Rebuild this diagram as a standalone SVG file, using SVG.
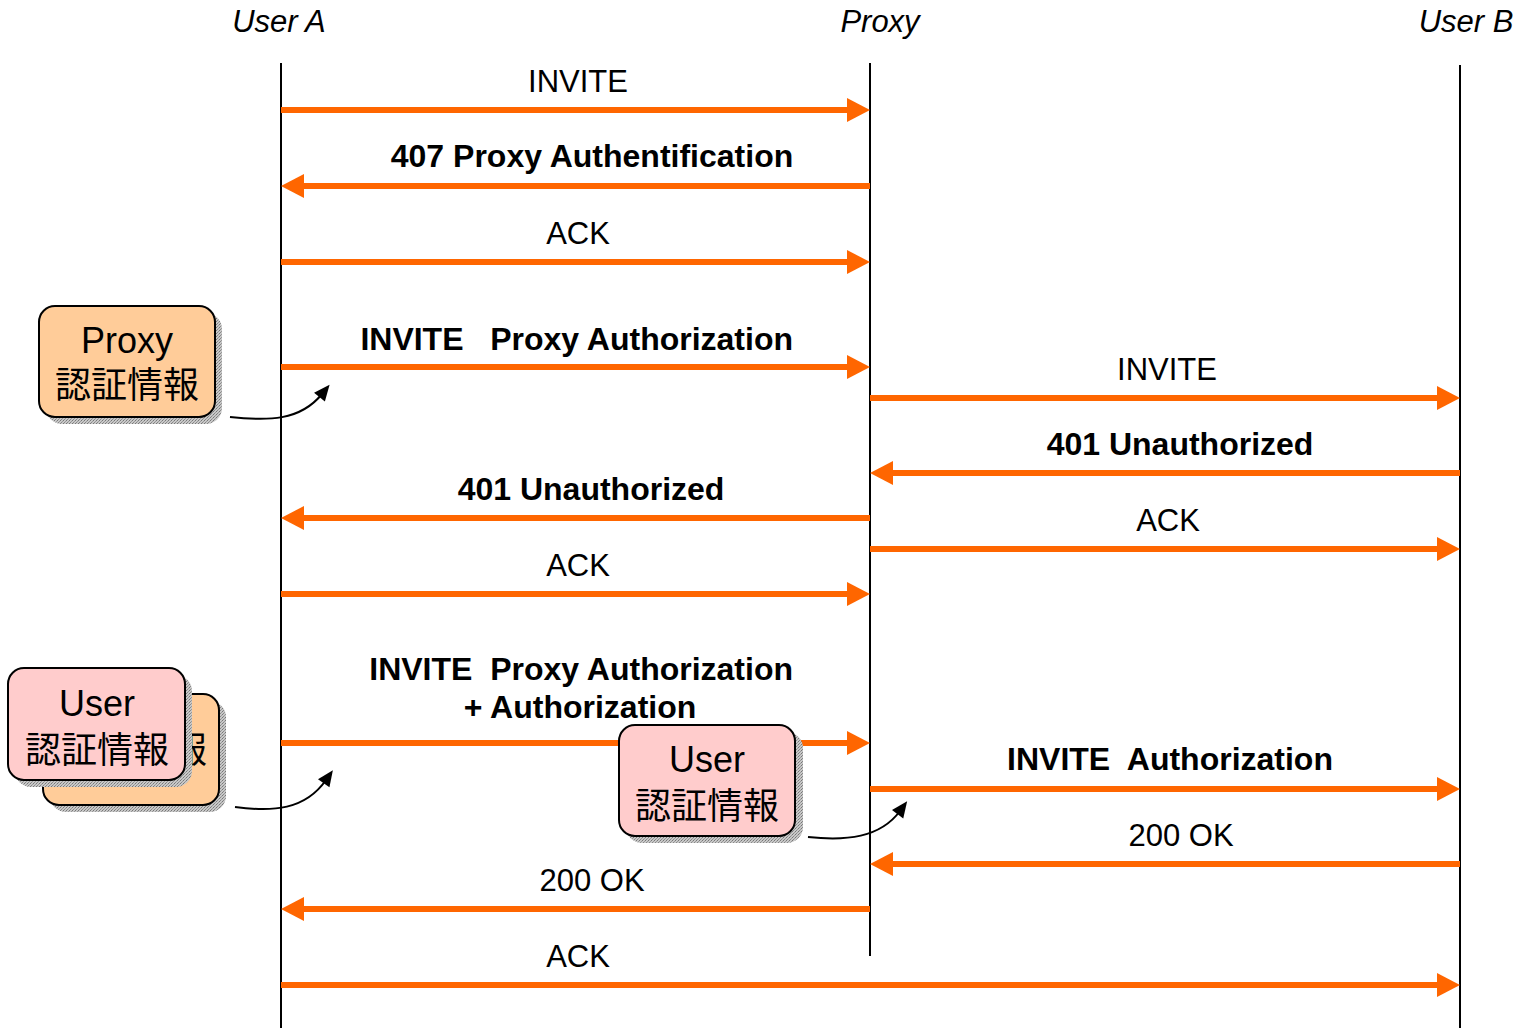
<svg xmlns="http://www.w3.org/2000/svg" width="1520" height="1028" viewBox="0 0 1520 1028">
<style>
.life{stroke:#000;stroke-width:2;fill:none}
.msg{stroke:#FF6600;stroke-width:6;fill:none;marker-end:url(#oh)}
.lbl{font-family:"Liberation Sans",Arial,sans-serif;font-size:31px;fill:#000;text-anchor:middle}
.b{font-weight:bold;font-size:32px}
.hdr{font-family:"Liberation Sans",Arial,sans-serif;font-size:31px;font-style:italic;fill:#000;text-anchor:middle}
.box{stroke:#000;stroke-width:2}
.peach{fill:#FFCC99}
.pink{fill:#FFCCCC}
.shadow{fill:url(#dots)}
.btxt{font-family:"Liberation Sans","Noto Sans CJK JP",sans-serif;font-size:36px;fill:#000;text-anchor:middle}
.curve{stroke:#000;stroke-width:2;fill:none;marker-end:url(#kh)}
</style>
<defs>
<marker id="oh" markerUnits="userSpaceOnUse" markerWidth="24" markerHeight="26" refX="0" refY="12" orient="auto" overflow="visible">
<path d="M0,0 L23,12 L0,24 z" fill="#FF6600"/>
</marker>
<marker id="kh" markerUnits="userSpaceOnUse" markerWidth="16" markerHeight="14" refX="4" refY="7" orient="auto" overflow="visible">
<path d="M0,0 L16,7 L0,14 z" fill="#000"/>
</marker>
<pattern id="dots" width="3" height="3" patternUnits="userSpaceOnUse">
<rect width="3" height="3" fill="#C8C8C8"/>
<rect width="1" height="1" fill="#777"/>
<rect x="2" y="1" width="1" height="1" fill="#999"/>
<rect x="1" y="2" width="1" height="1" fill="#888"/>
</pattern>
</defs>

<g id="headers">
<text class="hdr" x="279" y="32">User A</text>
<text class="hdr" x="880" y="32">Proxy</text>
<text class="hdr" x="1466" y="32">User B</text>
</g>

<g id="lifelines">
<line class="life" x1="281" y1="63" x2="281" y2="1028"/>
<line class="life" x1="870" y1="63" x2="870" y2="956"/>
<line class="life" x1="1460" y1="65" x2="1460" y2="1028"/>
</g>

<g id="connectors">
<line class="msg" x1="281" y1="110" x2="847" y2="110"/>
<line class="msg" x1="870" y1="186" x2="304" y2="186"/>
<line class="msg" x1="281" y1="262" x2="847" y2="262"/>
<line class="msg" x1="281" y1="367" x2="847" y2="367"/>
<line class="msg" x1="870" y1="398" x2="1437" y2="398"/>
<line class="msg" x1="1460" y1="473" x2="893" y2="473"/>
<line class="msg" x1="870" y1="518" x2="304" y2="518"/>
<line class="msg" x1="870" y1="549" x2="1437" y2="549"/>
<line class="msg" x1="281" y1="594" x2="847" y2="594"/>
<line class="msg" x1="281" y1="743" x2="847" y2="743"/>
<line class="msg" x1="870" y1="789" x2="1437" y2="789"/>
<line class="msg" x1="1460" y1="864" x2="893" y2="864"/>
<line class="msg" x1="870" y1="909" x2="304" y2="909"/>
<line class="msg" x1="281" y1="985" x2="1437" y2="985"/>
<path class="curve" d="M230,417 C268,421 300,421 322,394"/>
<path class="curve" d="M235,807 C273,812 305,810 326,780"/>
<path class="curve" d="M808,837 C846,841 880,838 900,811"/>
</g>

<g id="labels">
<text class="lbl" x="578" y="92">INVITE</text>
<text class="lbl b" x="592" y="167">407 Proxy Authentification</text>
<text class="lbl" x="578" y="244">ACK</text>
<text class="lbl b" x="793" y="350" style="text-anchor:end;white-space:pre" xml:space="preserve">INVITE   Proxy Authorization</text>
<text class="lbl" x="1167" y="380">INVITE</text>
<text class="lbl b" x="1180" y="455">401 Unauthorized</text>
<text class="lbl b" x="591" y="500">401 Unauthorized</text>
<text class="lbl" x="1168" y="531">ACK</text>
<text class="lbl" x="578" y="576">ACK</text>
<text class="lbl b" x="793" y="680" style="text-anchor:end;white-space:pre" xml:space="preserve">INVITE  Proxy Authorization</text>
<text class="lbl b" x="580" y="718">+ Authorization</text>
<text class="lbl b" x="1170" y="770" style="white-space:pre" xml:space="preserve">INVITE  Authorization</text>
<text class="lbl" x="1181" y="846">200 OK</text>
<text class="lbl" x="592" y="891">200 OK</text>
<text class="lbl" x="578" y="967">ACK</text>
</g>

<g id="proxy-cred">
<rect class="shadow" x="46" y="313" width="176" height="111" rx="16"/>
<rect class="box peach" x="39" y="306" width="176" height="111" rx="16"/>
<text class="btxt" x="127" y="353">Proxy</text>
<text class="btxt" x="127" y="398">認証情報</text>
</g>

<g id="user-cred-stack">
<rect class="shadow" x="50" y="701" width="176" height="111" rx="16"/>
<rect class="box peach" x="43" y="694" width="176" height="111" rx="16"/>
<text class="btxt" x="171" y="763" style="text-anchor:start">報</text>
<rect class="shadow" x="15" y="675" width="177" height="112" rx="16"/>
<rect class="box pink" x="8" y="668" width="177" height="112" rx="16"/>
<text class="btxt" x="97" y="716">User</text>
<text class="btxt" x="97" y="763">認証情報</text>
</g>

<g id="user-cred-mid">
<rect class="shadow" x="626" y="732" width="177" height="111" rx="16"/>
<rect class="box pink" x="619" y="725" width="176" height="111" rx="16"/>
<text class="btxt" x="707" y="772">User</text>
<text class="btxt" x="707" y="819">認証情報</text>
</g>
</svg>
